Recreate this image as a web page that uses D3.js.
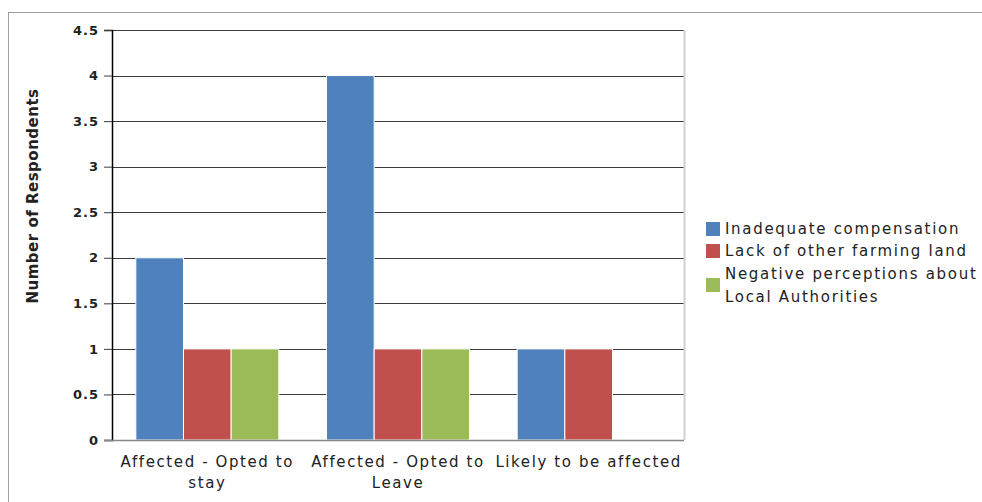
<!DOCTYPE html>
<html lang="en">
<head>
    <meta charset="UTF-8">
    <title>Number of Respondents</title>
    <script src="https://d3js.org/d3.v7.min.js"></script>
    <style>
        body { margin: 0; background: #fff; }
        svg text { font-family: "DejaVu Sans", "Open Sans", sans-serif; fill: #222; }
    </style>
</head>
<body>
    <svg width="982" height="502"></svg>

    <script>
        // Chart data
        const categories = ["Affected - Opted to stay", "Affected - Opted to Leave", "Likely to be affected"];
        const categoryLines = [["Affected - Opted to", "stay"], ["Affected - Opted to", "Leave"], ["Likely to be affected"]];
        const seriesNames = ["Inadequate compensation", "Lack of other farming land", "Negative perceptions about Local Authorities"];
        const legendLines = [["Inadequate compensation"], ["Lack of other farming land"], ["Negative perceptions about", "Local Authorities"]];
        const inadequateCompensation = [2, 4, 1];
        const lackOfFarmingLand = [1, 1, 1];
        const negativePerceptions = [1, 1, 0];
        const yTicks = [0, 0.5, 1, 1.5, 2, 2.5, 3, 3.5, 4, 4.5];
        const colors = ["#4F81BD", "#C0504D", "#9BBB59"];

        const seriesValues = [inadequateCompensation, lackOfFarmingLand, negativePerceptions];

        const margin = { top: 30, left: 112 };
        const width = 572;
        const height = 410;

        const svg = d3.select("svg");

        // outer chart border
        svg.append("rect")
            .attr("x", 8.5).attr("y", 12.5)
            .attr("width", 990).attr("height", 500)
            .attr("fill", "none").attr("stroke", "#a0a0a0");

        const g = svg.append("g")
            .attr("transform", "translate(" + margin.left + "," + margin.top + ")");

        const x0 = d3.scaleBand()
            .domain(categories)
            .range([0, width])
            .paddingInner(0.25)
            .paddingOuter(0.125);

        const x1 = d3.scaleBand()
            .domain(seriesNames)
            .range([0, x0.bandwidth()]);

        const y = d3.scaleLinear()
            .domain([0, 4.5])
            .range([height, 0]);

        // gridlines
        g.selectAll(".grid")
            .data(yTicks.filter(d => d > 0))
            .enter()
            .append("line")
            .attr("x1", 0).attr("x2", width)
            .attr("y1", d => Math.round(y(d)) + 0.5)
            .attr("y2", d => Math.round(y(d)) + 0.5)
            .attr("stroke", "#3c3c3c");

        // right border of plot area
        g.append("line")
            .attr("x1", width + 0.5).attr("x2", width + 0.5)
            .attr("y1", 0).attr("y2", height)
            .attr("stroke", "#d0d0d0").attr("stroke-width", 2);

        // bars
        const groups = g.selectAll(".group")
            .data(categories)
            .enter()
            .append("g")
            .attr("transform", d => "translate(" + x0(d) + ",0)");

        groups.selectAll("rect")
            .data((d, i) => seriesNames.map((s, j) => ({ s: s, v: seriesValues[j][i], c: colors[j] })))
            .enter()
            .append("rect")
            .filter(d => d.v > 0)
            .attr("x", d => x1(d.s))
            .attr("y", d => y(d.v))
            .attr("width", x1.bandwidth())
            .attr("height", d => height - y(d.v))
            .attr("fill", d => d.c)
            .attr("stroke", "#fff")
            .attr("stroke-width", 1);

        // y axis
        const yAxis = g.append("g")
            .call(d3.axisLeft(y).tickValues(yTicks).tickSize(8).tickPadding(5).tickFormat(d3.format("")));
        yAxis.select(".domain").attr("stroke", "#000").attr("stroke-width", 1.5);
        yAxis.selectAll(".tick line").attr("stroke", "#3c3c3c");
        yAxis.selectAll("text")
            .style("font-family", "'DejaVu Sans', sans-serif")
            .style("font-size", "13px").style("font-weight", "bold")
            .style("letter-spacing", "1px").attr("fill", "#333");

        // x axis line
        g.append("line")
            .attr("x1", -8).attr("x2", width)
            .attr("y1", height + 0.5).attr("y2", height + 0.5)
            .attr("stroke", "#888").attr("stroke-width", 1.5);

        // x labels
        const xl = g.selectAll(".xlabel")
            .data(categories)
            .enter()
            .append("text")
            .attr("x", d => x0(d) + x0.bandwidth() / 2)
            .attr("y", height + 27)
            .attr("text-anchor", "middle")
            .style("font-size", "15px")
            .style("letter-spacing", "1.6px");
        xl.selectAll("tspan")
            .data((d, i) => categoryLines[i])
            .enter()
            .append("tspan")
            .attr("x", function() { return d3.select(this.parentNode).attr("x"); })
            .attr("dy", (d, i) => i === 0 ? 0 : 21)
            .text(d => d);

        // axis title
        svg.append("text")
            .attr("transform", "translate(38,196) rotate(-90)")
            .attr("text-anchor", "middle")
            .style("font-size", "15px")
            .style("font-weight", "bold")
            .style("letter-spacing", "0.5px")
            .text("Number of Respondents");

        // legend
        const legendY = [229, 251, 285];
        const legend = svg.selectAll(".legend")
            .data(seriesNames)
            .enter()
            .append("g")
            .attr("transform", (d, i) => "translate(706," + legendY[i] + ")");

        legend.append("rect")
            .attr("x", 0).attr("y", -7)
            .attr("width", 14).attr("height", 14)
            .attr("fill", (d, i) => colors[i]);

        legend.append("text")
            .attr("x", 19)
            .attr("y", (d, i) => legendLines[i].length > 1 ? -6 : 5)
            .style("font-size", "15px")
            .style("letter-spacing", "1.7px")
            .selectAll("tspan")
            .data((d, i) => legendLines[i])
            .enter()
            .append("tspan")
            .attr("x", 19)
            .attr("dy", (d, i) => i === 0 ? 0 : 23)
            .text(d => d);
    </script>
</body>
</html>
